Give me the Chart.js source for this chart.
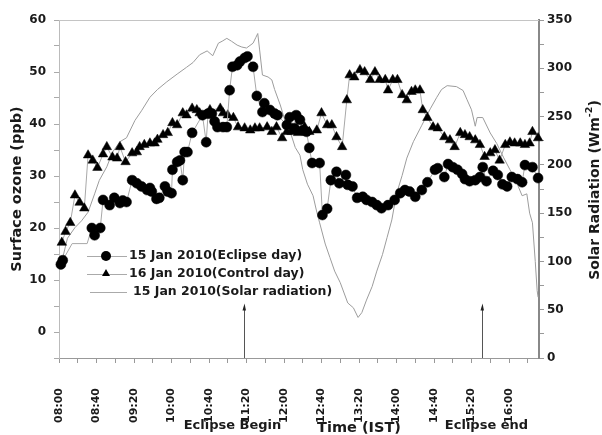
<!DOCTYPE html>
<html><head><meta charset="utf-8">
<script src="https://cdn.jsdelivr.net/npm/chart.js@4.4.1/dist/chart.umd.min.js"></script>
<style>html,body{margin:0;padding:0;background:#fff;}canvas{display:block;}</style>
</head><body>
<canvas id="c" width="602" height="435"></canvas>
<script>
// ---- data ----
const seriesLabels = ['15 Jan 2010(Eclipse day)', '16 Jan 2010(Control day)', '15 Jan 2010(Solar radiation)'];

const eclipseTimes = ['08:02','08:04','08:14','08:30','08:35','08:38','08:44','08:47','08:54','08:59','09:05','09:08','09:12','09:18','09:23','09:28','09:34','09:37','09:39','09:44','09:47','09:53','09:56','10:00','10:01','10:06','10:09','10:12','10:14','10:17','10:22','10:33','10:37','10:39','10:43','10:46','10:49','10:55','10:59','11:02','11:05','11:10','11:13','11:18','11:21','11:27','11:31','11:37','11:39','11:45','11:50','11:53','12:03','12:06','12:11','12:13','12:17','12:20','12:24','12:27','12:30','12:38','12:41','12:46','12:50','12:56','12:59','13:06','13:08','13:13','13:18','13:24','13:28','13:34','13:39','13:44','13:51','13:58','14:04','14:09','14:14','14:20','14:27','14:33','14:41','14:44','14:51','14:55','15:00','15:05','15:10','15:13','15:18','15:24','15:29','15:32','15:36','15:43','15:48','15:53','15:58','16:03','16:09','16:14','16:17','16:25','16:31'];
const eclipseOzone = [13,13.8,17,17,20,18.6,20,25.4,24.4,25.8,24.8,25.3,25,29.2,28.6,28,27.3,27.7,27,25.6,25.8,28,27,26.7,31.2,32.7,33,29.2,34.6,34.6,38.3,41.7,36.5,42,42,40.5,39.4,39.4,39.4,46.5,51,51.3,52,52.7,53,51,45.4,42.3,44,42.7,42,41.7,39.8,41.3,39.2,41.7,40.8,38.8,38.5,35.4,32.5,32.5,22.5,23.7,29.2,30.8,28.6,30.2,28.3,28,25.8,26,25.4,25,24.4,23.8,24.4,25.4,26.7,27.3,27,26,27.3,28.8,31.2,31.5,29.8,32.3,31.7,31.2,30.4,29.4,29,29.2,29.8,31.7,29,31,30.2,28.4,28,29.8,29.4,28.8,32.1,31.7,29.6];
const eclipseUnmarked = ['08:14','08:30'];

const controlTimes = ['08:03','08:07','08:12','08:17','08:22','08:27','08:31','08:36','08:41','08:47','08:51','08:57','09:02','09:05','09:11','09:18','09:23','09:26','09:31','09:37','09:42','09:45','09:51','09:56','10:01','10:06','10:12','10:16','10:22','10:27','10:30','10:36','10:41','10:52','10:55','11:00','11:06','11:11','11:18','11:24','11:29','11:34','11:42','11:47','11:52','11:58','12:03','12:08','12:15','12:22','12:27','12:35','12:40','12:46','12:51','12:56','13:02','13:07','13:10','13:15','13:21','13:26','13:32','13:37','13:42','13:48','13:51','13:56','14:01','14:06','14:11','14:16','14:20','14:25','14:28','14:33','14:39','14:44','14:51','14:57','15:02','15:08','15:13','15:18','15:24','15:29','15:34','15:40','15:45','15:50','15:56','16:01','16:06','16:12','16:17','16:22','16:25','16:31'];
const controlOzone = [17.2,19.3,21,26.3,24.9,23.8,34,33,31.6,34.2,35.6,33.6,33.4,35.6,32.7,34.4,34.6,35.6,36,36.3,36.3,37,37.9,38.3,40.2,39.8,42.1,41.7,43,42.7,42.1,41.7,42.7,43,42.1,41.7,41.2,39.4,39.2,38.8,39.2,39.2,39.4,38.5,39.4,37.3,38.5,38.5,38.3,39.4,38.5,38.8,42.1,39.8,39.8,37.5,35.6,44.6,49.4,49,50.4,50,48.5,50,48.5,48.5,46.5,48.5,48.5,45.6,44.6,46.2,46.5,46.5,42.7,41.2,39.4,39.2,37.5,36.9,35.6,38.3,37.9,37.5,36.9,36,33.7,34.4,35,33,36,36.5,36.3,36.3,36,36.3,38.5,37.3];

const solarTimes = ['08:03','08:09','08:17','08:24','08:31','08:38','08:43','08:51','08:57','09:05','09:12','09:21','09:28','09:37','09:45','09:55','10:06','10:16','10:23','10:30','10:38','10:44','10:50','10:54','10:59','11:04','11:10','11:15','11:20','11:27','11:30','11:32','11:34','11:37','11:43','11:47','11:50','11:56','12:01','12:06','12:12','12:17','12:20','12:25','12:31','12:35','12:38','12:44','12:49','12:54','13:00','13:08','13:14','13:19','13:23','13:28','13:34','13:39','13:45','13:50','13:55','14:00','14:06','14:11','14:18','14:27','14:36','14:43','14:48','14:54','15:04','15:11','15:15','15:20','15:24','15:26','15:32','15:40','15:47','15:54','16:01','16:08','16:14','16:19','16:22','16:25','16:28','16:30','16:31'];
const solarRadiation = [100,124,135,142,151,170,184,198,213,224,228,246,256,270,278,286,294,301,306,314,318,313,326,328,331,328,324,322,321,326,332,336,319,293,291,288,278,262,246,236,218,210,195,180,168,151,140,118,104,90,78,57,52,42,47,60,74,90,107,125,143,170,189,207,224,241,258,270,278,282,281,277,268,257,240,249,249,233,222,208,195,182,168,170,150,140,100,70,63];

const ozoneTicks = [0,10,20,30,40,50,60];
const solarTicks = [0,50,100,150,200,250,300,350];
const eclipseMarks = [{label:'Eclipse Begin', time:'11:17'}, {label:'Eclipse end', time:'15:31'}];
const arrowTopOzone = 5.5;

// ---- helpers ----
const toMin = t => { const [h, m] = t.split(':').map(Number); return (h - 8) * 60 + m; };
const fmtMin = v => String(8 + Math.floor(v / 60)).padStart(2, '0') + ':' + String(v % 60).padStart(2, '0');
const zip = (ts, vs) => ts.map((t, i) => ({x: toMin(t), y: vs[i]}));
const FONT = '"DejaVu Sans", sans-serif';
const TXT = '#1a1a1a';

const overlay = {
  id: 'overlay',
  beforeDatasetsDraw(chart) {
    const {ctx, chartArea: a} = chart;
    ctx.save();
    ctx.strokeStyle = '#c4c4c4'; ctx.lineWidth = 1;
    ctx.beginPath(); ctx.moveTo(a.left, a.top + 0.5); ctx.lineTo(a.right, a.top + 0.5); ctx.stroke();
    ctx.restore();
  },
  afterDraw(chart) {
    const {ctx, chartArea: a, scales} = chart;
    const xs = scales.x, ys = scales.y;
    ctx.save();
    // eclipse arrows + labels
    const shifts = [-12, 4];
    eclipseMarks.forEach((mk, i) => {
      const x = Math.round(xs.getPixelForValue(toMin(mk.time))) + 0.5;
      const yTop = ys.getPixelForValue(arrowTopOzone);
      ctx.strokeStyle = '#555'; ctx.lineWidth = 1;
      ctx.beginPath(); ctx.moveTo(x, a.bottom); ctx.lineTo(x, yTop + 4); ctx.stroke();
      ctx.fillStyle = '#222';
      ctx.beginPath(); ctx.moveTo(x, yTop); ctx.lineTo(x - 2, yTop + 7); ctx.lineTo(x + 1.5, yTop + 7); ctx.closePath(); ctx.fill();
      ctx.fillStyle = TXT;
      ctx.font = 'bold 13px ' + FONT; ctx.textAlign = 'center'; ctx.textBaseline = 'alphabetic';
      ctx.fillText(mk.label, x + shifts[i], 429);
    });
    // x title
    ctx.font = 'bold 14.5px ' + FONT; ctx.textAlign = 'center'; ctx.textBaseline = 'alphabetic';
    ctx.fillText('Time (IST)', xs.getPixelForValue(320), 432);
    // left title
    const cy = (a.top + a.bottom) / 2;
    ctx.save();
    ctx.translate(17.5, cy); ctx.rotate(-Math.PI / 2);
    ctx.textBaseline = 'middle';
    ctx.fillText('Surface ozone (ppb)', 0, 0);
    ctx.restore();
    // right title with superscript
    ctx.save();
    ctx.translate(595, cy + 1); ctx.rotate(-Math.PI / 2);
    ctx.textBaseline = 'middle'; ctx.textAlign = 'left';
    const mainF = 'bold 14px ' + FONT, supF = 'bold 9.5px ' + FONT;
    const p1 = 'Solar Radiation (Wm', p2 = '-2', p3 = ')';
    ctx.font = mainF; const w1 = ctx.measureText(p1).width, w3 = ctx.measureText(p3).width;
    ctx.font = supF; const w2 = ctx.measureText(p2).width;
    let sx = -(w1 + w2 + w3) / 2;
    ctx.font = mainF; ctx.fillText(p1, sx, 0); sx += w1;
    ctx.font = supF; ctx.fillText(p2, sx, -5); sx += w2;
    ctx.font = mainF; ctx.fillText(p3, sx, 0);
    ctx.restore();
    // legend
    const rows = [256, 273.5, 291.5];
    ctx.lineWidth = 1; ctx.strokeStyle = '#aaa';
    rows.forEach((ry, i) => {
      const y = Math.round(ry) + 0.5;
      ctx.beginPath(); ctx.moveTo(i === 2 ? 90 : 87, y); ctx.lineTo(127, y); ctx.stroke();
      ctx.fillStyle = '#000';
      if (i === 0) { ctx.beginPath(); ctx.arc(106, ry, 5, 0, Math.PI * 2); ctx.fill(); }
      if (i === 1) { ctx.beginPath(); ctx.moveTo(106, ry - 4.5); ctx.lineTo(110, ry + 2.5); ctx.lineTo(102, ry + 2.5); ctx.closePath(); ctx.fill(); }
      ctx.fillStyle = TXT; ctx.font = 'bold 12.5px ' + FONT; ctx.textAlign = 'left'; ctx.textBaseline = 'middle';
      ctx.fillText(seriesLabels[i], i === 2 ? 133 : 129, ry);
    });
    ctx.restore();
  }
};

const tickFont = {family: FONT, weight: 'bold', size: 12};

new Chart(document.getElementById('c'), {
  type: 'line',
  data: {
    datasets: [
      {
        label: seriesLabels[0], data: zip(eclipseTimes, eclipseOzone), yAxisID: 'y', order: 1,
        borderColor: '#a8a8a8', borderWidth: 1, pointStyle: 'circle',
        pointRadius: c => (c.raw && eclipseUnmarked.includes(fmtMin(c.raw.x))) ? 0 : 5,
        pointBackgroundColor: '#000', pointBorderColor: '#000', pointBorderWidth: 0.5, clip: 8
      },
      {
        label: seriesLabels[1], data: zip(controlTimes, controlOzone), yAxisID: 'y', order: 2,
        borderColor: '#a8a8a8', borderWidth: 1, pointStyle: 'triangle', pointRadius: 5.5,
        pointBackgroundColor: '#000', pointBorderColor: '#000', pointBorderWidth: 0.5, clip: 8
      },
      {
        label: seriesLabels[2], data: zip(solarTimes, solarRadiation), yAxisID: 'y1', order: 3,
        borderColor: '#9c9c9c', borderWidth: 1, pointRadius: 0
      }
    ]
  },
  options: {
    responsive: false, animation: false, devicePixelRatio: 1, events: [],
    layout: {padding: {top: 20, left: 0, right: 0, bottom: 0}},
    plugins: {legend: {display: false}, tooltip: {enabled: false}},
    elements: {line: {tension: 0}},
    scales: {
      x: {
        type: 'linear', min: 0, max: 512,
        afterFit: s => { s.height = 77; },
        border: {color: '#999', width: 1},
        grid: {drawOnChartArea: false, tickLength: 5, color: '#999'},
        ticks: {
          stepSize: 20, includeBounds: false, autoSkip: false, maxRotation: 90, minRotation: 90,
          padding: 25, color: TXT, font: {family: FONT, weight: 'bold', size: 11},
          callback: v => (v % 40 === 0) ? fmtMin(v) : ''
        }
      },
      y: {
        position: 'left', min: -5, max: 60,
        afterFit: s => { s.width = 59; },
        border: {color: '#bbb', width: 1},
        grid: {drawOnChartArea: false, tickLength: 5, color: '#aaa'},
        ticks: {stepSize: 5, includeBounds: false, padding: 8, color: TXT, font: tickFont,
          callback: v => ozoneTicks.includes(v) ? String(v) : ''}
      },
      y1: {
        position: 'right', min: 0, max: 350,
        afterFit: s => { s.width = 63; },
        border: {color: '#888', width: 2},
        grid: {drawOnChartArea: false, tickLength: 5, color: '#999'},
        ticks: {stepSize: 25, includeBounds: false, padding: 3, color: TXT, font: tickFont,
          callback: v => solarTicks.includes(v) ? String(v) : ''}
      }
    }
  },
  plugins: [overlay]
});
</script>
</body></html>
